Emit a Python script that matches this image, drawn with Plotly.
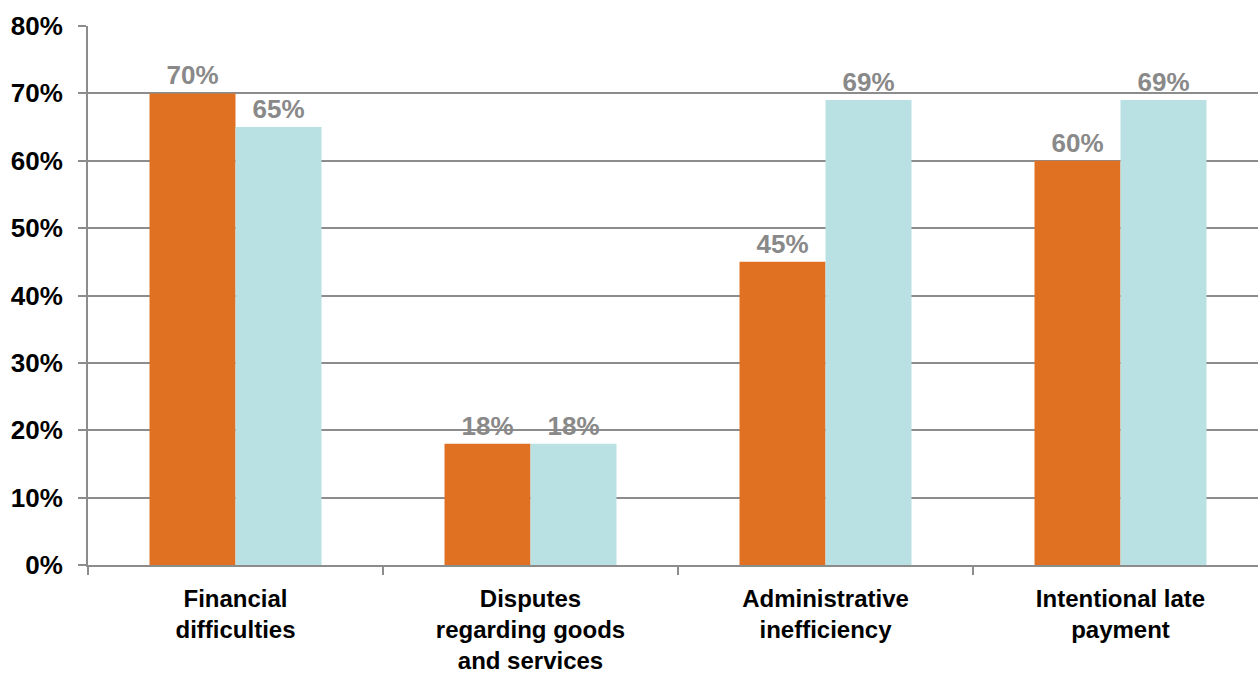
import plotly.graph_objects as go

categories = [
    "Financial<br>difficulties",
    "Disputes<br>regarding goods<br>and services",
    "Administrative<br>inefficiency",
    "Intentional late<br>payment",
]
series_a = [70, 18, 45, 60]
series_b = [65, 18, 69, 69]
y_ticks = [0, 10, 20, 30, 40, 50, 60, 70, 80]
y_tick_labels = [f"{v}%" for v in y_ticks]

ORANGE = "#E07123"
TEAL = "#B9E0E3"
GRID = "#8C8C8C"
LABEL_GRAY = "#898989"
FONT = "Arial, Liberation Sans, sans-serif"
SIZE = 26
CAT_SIZE = 24

fig = go.Figure()
for vals, color in ((series_a, ORANGE), (series_b, TEAL)):
    fig.add_trace(go.Bar(
        x=categories,
        y=vals,
        marker=dict(color=color, line=dict(width=0)),
        text=[f"{v}%" for v in vals],
        texttemplate="%{text}",
        textposition="outside",
        textfont=dict(family=FONT, size=SIZE, color=LABEL_GRAY, weight="bold"),
        cliponaxis=False,
        hoverinfo="skip",
    ))

fig.update_layout(
    width=1258,
    height=674,
    margin=dict(l=88, r=0, t=26, b=109),
    paper_bgcolor="white",
    plot_bgcolor="white",
    barmode="group",
    bargap=0.417,
    bargroupgap=0,
    showlegend=False,
    font=dict(family=FONT, size=SIZE, color="black"),
)

fig.update_xaxes(
    range=[-0.5, -0.5 + 1170 / 295],
    automargin=False,
    showgrid=False,
    showline=True,
    linecolor=GRID,
    linewidth=2,
    ticks="outside",
    tickson="boundaries",
    ticklen=8,
    tickwidth=2,
    tickcolor=GRID,
    ticklabelstandoff=11,
    tickfont=dict(family=FONT, size=CAT_SIZE, color="black", weight="bold"),
)

fig.update_yaxes(
    range=[0, 80],
    automargin=False,
    tickvals=y_ticks,
    ticktext=y_tick_labels,
    showgrid=True,
    gridcolor=GRID,
    gridwidth=2,
    zeroline=False,
    showline=True,
    linecolor=GRID,
    linewidth=2,
    ticks="outside",
    ticklen=8,
    tickwidth=2,
    tickcolor=GRID,
    ticklabelstandoff=10,
    tickfont=dict(family=FONT, size=SIZE, color="black", weight="bold"),
)

fig.write_html("out.html")
